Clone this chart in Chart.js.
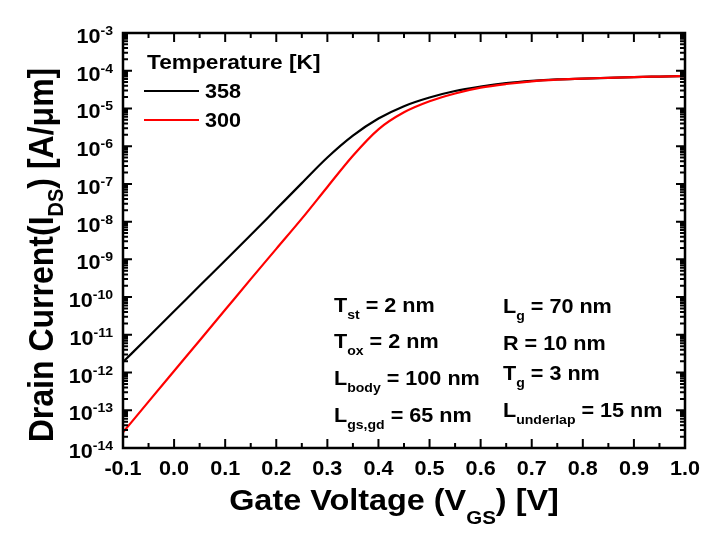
<!DOCTYPE html>
<html>
<head>
<meta charset="utf-8">
<script src="https://cdn.jsdelivr.net/npm/chart.js@4"></script>
<style>
  html, body { margin: 0; padding: 0; background: #fff; }
  #wrap { width: 720px; height: 544px; }
</style>
</head>
<body>
<div id="wrap"><canvas id="chart" width="720" height="544"></canvas></div>
<script>
// gate voltage (V) and drain current (A/um)
const voltage = [-0.1, -0.05, 0.0, 0.05, 0.1, 0.15, 0.2, 0.25, 0.3, 0.35, 0.4, 0.45,
  0.5, 0.55, 0.6, 0.65, 0.7, 0.75, 0.8, 0.85, 0.9, 0.95, 1.0];
const current358 = [1.9e-12, 8.9e-12, 4.2e-11, 2.0e-10, 9.3e-10, 4.4e-9, 2.15e-8, 1.05e-7,
  5.0e-7, 1.9e-6, 5.4e-6, 1.15e-5, 1.95e-5, 2.9e-5, 3.8e-5, 4.7e-5, 5.4e-5, 5.9e-5,
  6.2e-5, 6.5e-5, 6.8e-5, 7.0e-5, 7.2e-5];
const current300 = [2.6e-14, 1.7e-13, 1.1e-12, 7.1e-12, 4.6e-11, 3.0e-10, 1.9e-9, 1.2e-8,
  8.3e-8, 5.6e-7, 2.8e-6, 7.9e-6, 1.55e-5, 2.5e-5, 3.55e-5, 4.45e-5, 5.25e-5, 5.8e-5,
  6.2e-5, 6.5e-5, 6.8e-5, 7.0e-5, 7.2e-5];

const seriesLabels = ['358', '300'];
const seriesColors = ['#000000', '#ff0000'];
const legendTitle = 'Temperature [K]';

const xTicks = [-0.1, 0.0, 0.1, 0.2, 0.3, 0.4, 0.5, 0.6, 0.7, 0.8, 0.9, 1.0];
const xTickLabels = ['-0.1', '0.0', '0.1', '0.2', '0.3', '0.4', '0.5', '0.6', '0.7', '0.8', '0.9', '1.0'];
const yExponents = [-14, -13, -12, -11, -10, -9, -8, -7, -6, -5, -4, -3];

// parameter notes: [main, subscript, rest]
const notesLeft = [['T', 'st', ' = 2 nm'], ['T', 'ox', ' = 2 nm'], ['L', 'body', ' = 100 nm'], ['L', 'gs,gd', ' = 65 nm']];
const notesRight = [['L', 'g', ' = 70 nm'], ['R', '', ' = 10 nm'], ['T', 'g', ' = 3 nm'], ['L', 'underlap', ' = 15 nm']];

const FONT = '"Liberation Sans", Arial, sans-serif';
const SX = 1.08; // the source figure's text is a bit wide
const bold = (px) => `bold ${px}px ${FONT}`;

const toPoints = (ys) => voltage.map((v, i) => ({ x: v, y: ys[i] }));

// plain text, slightly widened
function text(ctx, s, x, y, size, align) {
  ctx.save();
  ctx.translate(x, y);
  ctx.scale(SX, 1);
  ctx.font = bold(size);
  ctx.textAlign = align;
  ctx.textBaseline = 'alphabetic';
  ctx.fillText(s, 0, 0);
  ctx.restore();
}

// [main, sub, rest] drawn in local coords starting at x0 on baseline 0
function rich(ctx, x0, parts, size, subSize, subDrop) {
  const [main, sub, rest] = parts;
  ctx.textAlign = 'left';
  ctx.textBaseline = 'alphabetic';
  ctx.font = bold(size);
  ctx.fillText(main, x0, 0);
  let cx = x0 + ctx.measureText(main).width;
  if (sub) {
    ctx.font = bold(subSize);
    ctx.fillText(sub, cx, subDrop);
    cx += ctx.measureText(sub).width;
  }
  ctx.font = bold(size);
  ctx.fillText(rest, cx, 0);
}

function richWidth(ctx, parts, size, subSize) {
  ctx.font = bold(size);
  let w = ctx.measureText(parts[0]).width + ctx.measureText(parts[2]).width;
  ctx.font = bold(subSize);
  w += ctx.measureText(parts[1]).width;
  return w;
}

const decor = {
  id: 'decor',
  afterDraw(chart) {
    const { ctx, chartArea: a, scales: { x, y } } = chart;
    ctx.save();
    ctx.fillStyle = '#000';
    ctx.strokeStyle = '#000';

    // ticks on all four sides, pointing inwards
    ctx.lineWidth = 2;
    ctx.beginPath();
    xTicks.forEach((v, i) => {
      const px = x.getPixelForValue(v);
      ctx.moveTo(px, a.bottom); ctx.lineTo(px, a.bottom - 9);
      ctx.moveTo(px, a.top); ctx.lineTo(px, a.top + 9);
      if (i < xTicks.length - 1) {
        const mx = x.getPixelForValue(v + 0.05);
        ctx.moveTo(mx, a.bottom); ctx.lineTo(mx, a.bottom - 5);
        ctx.moveTo(mx, a.top); ctx.lineTo(mx, a.top + 5);
      }
    });
    yExponents.forEach((e, i) => {
      const py = y.getPixelForValue(Math.pow(10, e));
      ctx.moveTo(a.left, py); ctx.lineTo(a.left + 9, py);
      ctx.moveTo(a.right, py); ctx.lineTo(a.right - 9, py);
      if (i < yExponents.length - 1) {
        for (let m = 2; m <= 9; m++) {
          const my = y.getPixelForValue(m * Math.pow(10, e));
          ctx.moveTo(a.left, my); ctx.lineTo(a.left + 5, my);
          ctx.moveTo(a.right, my); ctx.lineTo(a.right - 5, my);
        }
      }
    });
    ctx.stroke();

    // frame
    ctx.lineWidth = 2.5;
    ctx.strokeRect(a.left, a.top, a.right - a.left, a.bottom - a.top);

    // x tick labels
    xTicks.forEach((v, i) => {
      text(ctx, xTickLabels[i], x.getPixelForValue(v), a.bottom + 27, 20, 'center');
    });

    // y tick labels 10^n
    yExponents.forEach((e) => {
      const py = y.getPixelForValue(Math.pow(10, e));
      ctx.font = bold(13);
      const sw = ctx.measureText(String(e)).width * SX;
      const right = a.left - 10;
      text(ctx, String(e), right, py + 2, 13, 'right');
      text(ctx, '10', right - sw, py + 10, 20, 'right');
    });

    // x title
    const xt = ['Gate Voltage (V', 'GS', ') [V]'];
    ctx.save();
    ctx.translate(394, a.bottom + 62);
    ctx.scale(SX, 1);
    rich(ctx, -richWidth(ctx, xt, 30, 19) / 2, xt, 30, 19, 14);
    ctx.restore();

    // y title, rotated
    const yt = ['Drain Current(I', 'DS', ') [A/\u03bcm]'];
    ctx.save();
    ctx.translate(53, 255);
    ctx.scale(SX, 1);
    ctx.rotate(-Math.PI / 2);
    rich(ctx, -richWidth(ctx, yt, 32, 20) / 2, yt, 32, 20, 9);
    ctx.restore();

    // legend
    text(ctx, legendTitle, 147, 69, 21, 'left');
    seriesLabels.forEach((lab, i) => {
      const ly = 91 + i * 29;
      ctx.strokeStyle = seriesColors[i];
      ctx.lineWidth = 2;
      ctx.beginPath();
      ctx.moveTo(144, ly); ctx.lineTo(199, ly);
      ctx.stroke();
      ctx.fillStyle = '#000';
      text(ctx, lab, 205, ly + 7, 20, 'left');
    });

    // device parameters
    ctx.fillStyle = '#000';
    const leftBase = [312, 348, 385, 422];
    const rightBase = [313, 350, 380, 417];
    const note = (p, nx, ny) => {
      ctx.save();
      ctx.translate(nx, ny);
      ctx.scale(SX, 1);
      rich(ctx, 0, p, 20, 13, 7);
      ctx.restore();
    };
    notesLeft.forEach((p, i) => note(p, 334, leftBase[i]));
    notesRight.forEach((p, i) => note(p, 503, rightBase[i]));

    ctx.restore();
  }
};

new Chart(document.getElementById('chart'), {
  type: 'line',
  data: {
    datasets: [
      { label: seriesLabels[0], data: toPoints(current358), borderColor: seriesColors[0], order: 1 },
      { label: seriesLabels[1], data: toPoints(current300), borderColor: seriesColors[1], order: 0 },
    ],
  },
  options: {
    responsive: false,
    animation: false,
    devicePixelRatio: 1,
    layout: { padding: { top: 33, right: 35, left: 0, bottom: 0 } },
    elements: {
      point: { radius: 0 },
      line: { borderWidth: 2.2, cubicInterpolationMode: 'monotone', fill: false },
    },
    plugins: { legend: { display: false }, tooltip: { enabled: false } },
    scales: {
      x: {
        type: 'linear',
        min: -0.1,
        max: 1.0,
        grid: { display: false },
        border: { display: false },
        ticks: { display: false },
        afterFit: (s) => { s.height = 96; },
      },
      y: {
        type: 'logarithmic',
        min: 1e-14,
        max: 1e-3,
        grid: { display: false },
        border: { display: false },
        ticks: { display: false },
        afterFit: (s) => { s.width = 123; },
      },
    },
  },
  plugins: [decor],
});
</script>
</body>
</html>
